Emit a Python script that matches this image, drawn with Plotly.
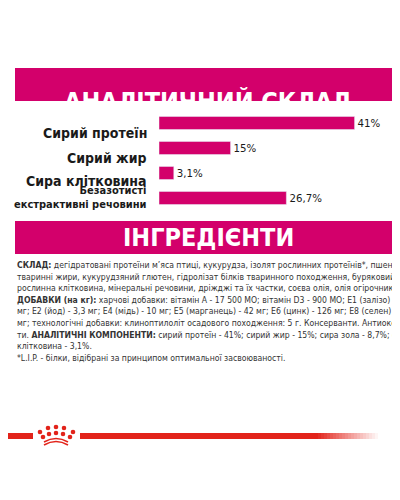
import plotly.graph_objects as go

labels = ["Сирий протеїн", "Сирий жир", "Сира клітковина", "Безазотисті<br>екстрактивні речовини"]
values = [41, 15, 3.1, 26.7]
value_text = ["41%", "15%", "3,1%", "26,7%"]

body_lines = [
    "<b>СКЛАД:</b> дегідратовані протеїни м’яса птиці, кукурудза, ізолят рослинних протеїнів*, пшениця,",
    "тваринні жири, кукурудзяний глютен, гідролізат білків тваринного походження, буряковий жом,",
    "рослинна клітковина, мінеральні речовини, дріжджі та їх частки, соєва олія, олія огірочника.",
    "<b>ДОБАВКИ (на кг):</b> харчові добавки: вітамін A - 17 500 МО; вітамін D3 - 900 МО; E1 (залізо) - 32",
    "мг; E2 (йод) - 3,3 мг; E4 (мідь) - 10 мг; E5 (марганець) - 42 мг; E6 (цинк) - 126 мг; E8 (селен) - 0,05",
    "мг; технологічні добавки: клиноптилоліт осадового походження: 5 г. Консерванти. Антиоксидан-",
    "ти. <b>АНАЛІТИЧНІ КОМПОНЕНТИ:</b> сирий протеїн - 41%; сирий жир - 15%; сира зола - 8,7%; сира",
    "клітковина - 3,1%.",
    "*L.I.P. - білки, відібрані за принципом оптимальної засвоюваності.",
]

PINK = "#D3006B"
RED = "#E2231A"
W, H = 400, 500

def py(px):
    return 1 - px / H

fig = go.Figure(go.Bar(
    x=values, y=labels, orientation="h",
    marker_color=PINK, text=value_text, textposition="outside",
    textfont=dict(family="DejaVu Sans Condensed", size=21, color="#1a1a1a"),
    cliponaxis=False, width=0.52,
))

fig.update_xaxes(domain=[151 / W, 1], range=[0, 52.2], visible=False)
fig.update_yaxes(domain=[py(202.5), py(102.5)], autorange="reversed", visible=False)

shapes = [
    dict(type="rect", xref="paper", yref="paper", x0=7 / W, x1=392 / W, y0=py(93), y1=py(60),
         fillcolor=PINK, line_width=0, layer="below"),
    dict(type="rect", xref="paper", yref="paper", x0=7 / W, x1=392 / W, y0=py(246), y1=py(213),
         fillcolor=PINK, line_width=0, layer="below"),
    dict(type="rect", xref="paper", yref="paper", x0=0, x1=25 / W, y0=py(431), y1=py(425),
         fillcolor=RED, line_width=0),
    dict(type="rect", xref="paper", yref="paper", x0=72 / W, x1=310 / W, y0=py(431), y1=py(425),
         fillcolor=RED, line_width=0),
]
# fading end of the red line
n = 20
for i in range(n):
    x0 = 310 + i * 3
    shapes.append(dict(type="rect", xref="paper", yref="paper", x0=x0 / W, x1=(x0 + 3) / W,
                       y0=py(431), y1=py(425), fillcolor=RED, opacity=1 - (i + 1) / (n + 1), line_width=0))
# crown
dots = [(32, 424), (40, 420), (48, 419), (56, 420), (65, 424),
        (35, 429), (41, 426), (48, 425), (55, 426), (62, 429)]
for cx, cy in dots:
    shapes.append(dict(type="circle", xref="paper", yref="paper",
                       x0=(cx - 2.3) / W, x1=(cx + 2.3) / W, y0=py(cy + 2.3), y1=py(cy - 2.3),
                       fillcolor=RED, line_width=0))
for yy in [432, 435]:
    shapes.append(dict(type="path", xref="paper", yref="paper",
                       path=f"M {36/W} {py(yy+2)} Q {48/W} {py(yy-5)} {60/W} {py(yy+2)}",
                       line=dict(color=RED, width=1.6)))

annotations = [
    dict(text="<b>АНАЛІТИЧНИЙ СКЛАД</b>", x=200 / W, y=py(77), showarrow=False,
         font=dict(family="DejaVu Sans Condensed", size=25, color="white")),
    dict(text="<b>ІНГРЕДІЄНТИ</b>", x=200 / W, y=py(230), showarrow=False,
         font=dict(family="DejaVu Sans Condensed", size=25, color="white")),
]
label_sizes = [14, 14, 14, 11]
label_y = [115, 140, 163, 189]
for lab, sz, yy in zip(labels, label_sizes, label_y):
    annotations.append(dict(text=f"<b>{lab}</b>", x=141 / W, y=py(yy), xanchor="right",
                            showarrow=False, align="right",
                            font=dict(family="DejaVu Sans Condensed", size=sz, color="#1a1a1a")))
for i, line in enumerate(body_lines):
    annotations.append(dict(text=line, x=7 / W, y=py(257 + i * 11.6), xanchor="left",
                            yanchor="middle", showarrow=False,
                            font=dict(family="DejaVu Sans Condensed", size=8.6, color="#333")))
for a in annotations:
    a["xref"] = "paper"
    a["yref"] = "paper"

fig.update_layout(
    width=W, height=H, margin=dict(l=0, r=0, t=0, b=0, autoexpand=False),
    plot_bgcolor="white", paper_bgcolor="white",
    shapes=shapes, annotations=annotations, showlegend=False,
)
fig.write_html("out.html")
